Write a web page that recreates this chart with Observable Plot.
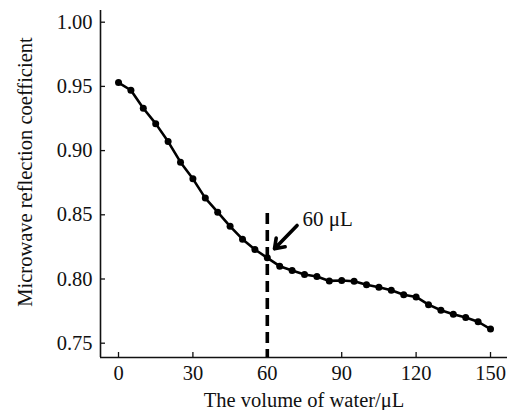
<!DOCTYPE html>
<html><head><meta charset="utf-8">
<script src="https://cdn.jsdelivr.net/npm/d3@7"></script>
<script src="https://cdn.jsdelivr.net/npm/@observablehq/plot@0.6"></script>
<style>body{margin:0;background:#fff}#chart svg{display:block;font-family:'Liberation Serif','Times New Roman',serif}#chart svg text{font-family:'Liberation Serif','Times New Roman',serif}</style>
</head><body><div id="chart"></div>
<script>
const volume = [0,5,10,15,20,25,30,35,40,45,50,55,60,65,70,75,80,85,90,95,100,105,110,115,120,125,130,135,140,145,150];
const reflection = [0.953,0.947,0.933,0.921,0.907,0.891,0.878,0.863,0.852,0.841,0.831,0.823,0.8165,0.810,0.8066,0.8035,0.802,0.7985,0.7988,0.7983,0.7955,0.7936,0.7913,0.7878,0.786,0.780,0.7757,0.7726,0.770,0.7667,0.761];
const xTicks = [0,30,60,90,120,150];
const yTicks = [0.75,0.80,0.85,0.90,0.95,1.00];
const markerVolume = [60];
const markerTop = [0.851];
const arrowTail = {x: 72, y: 0.8417};
const arrowTip = {x: 62.9, y: 0.8235};
const noteText = ["60 μL"];
const noteAt = {x: 74.2, y: 0.8463};
const xTitle = "The volume of water/μL";
const yTitle = "Microwave reflection coefficient";
const xDomain = [-7.26, 156.85];
const yDomain = [0.73886, 1.00911];

const data = volume.map((v, i) => ({v, r: reflection[i]}));
const font = "'Liberation Serif', 'Times New Roman', serif";
const ink = "#111";

const chart = Plot.plot({
  width: 512, height: 410,
  marginLeft: 100, marginRight: 5, marginTop: 10, marginBottom: 53,
  style: {fontFamily: font, background: "#fff", color: ink},
  x: {domain: xDomain},
  y: {domain: yDomain},
  marks: [
    Plot.gridX(xTicks, {stroke: ink, strokeOpacity: 1, strokeWidth: 1.3, insetTop: 342}),
    Plot.gridY(yTicks, {stroke: ink, strokeOpacity: 1, strokeWidth: 1.3, insetRight: 402}),
    Plot.axisX(xTicks, {tickSize: 0, tickPadding: 8, fontSize: 20.5, fontFamily: font, fill: ink, label: null, tickFormat: d => String(d)}),
    Plot.axisY(yTicks, {tickSize: 0, tickPadding: 8, fontSize: 20.5, fontFamily: font, fill: ink, label: null, tickFormat: d3.format(".2f")}),
    Plot.ruleY([yDomain[0]], {stroke: ink, strokeWidth: 1.6}),
    Plot.ruleX([xDomain[0]], {stroke: ink, strokeWidth: 1.6}),
    Plot.ruleX(markerVolume, {x: d => d, y1: () => markerTop[0], y2: () => yDomain[0], stroke: "#000", strokeWidth: 3.6, strokeDasharray: "11,6"}),
    Plot.line(data, {x: "v", y: "r", stroke: "#000", strokeWidth: 2.6}),
    Plot.dot(data, {x: "v", y: "r", r: 3.5, fill: "#000", stroke: "none"}),
    Plot.arrow([0], {x1: () => arrowTail.x, y1: () => arrowTail.y, x2: () => arrowTip.x, y2: () => arrowTip.y, stroke: "#000", strokeWidth: 3.6, headLength: 10, headAngle: 70}),
    Plot.text(noteText, {x: () => noteAt.x, y: () => noteAt.y, text: d => d, textAnchor: "start", fontSize: 21, fontFamily: font, fill: ink}),
    Plot.text([xTitle], {frameAnchor: "bottom", dy: 43, text: d => d, lineAnchor: "middle", textAnchor: "middle", fontSize: 20.5, fontFamily: font, fill: ink}),
    Plot.text([yTitle], {frameAnchor: "left", dx: -75, dy: -12, rotate: -90, text: d => d, textAnchor: "middle", lineAnchor: "middle", fontSize: 20.5, fontFamily: font, fill: ink})
  ]
});
document.getElementById("chart").appendChild(chart);
</script>
</body></html>
